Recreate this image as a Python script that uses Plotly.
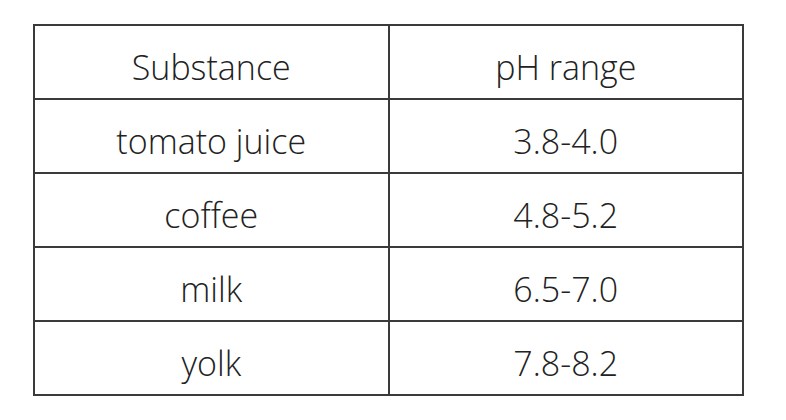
import plotly.graph_objects as go

# Table contents
headers = ["Substance", "pH range"]
substances = ["tomato juice", "coffee", "milk", "yolk"]
ph_ranges = ["3.8-4.0", "4.8-5.2", "6.5-7.0", "7.8-8.2"]

W, H = 786, 420
row_h = 74
line_col = "#3a3a3a"
off = 8          # page body margin in the screenshot
text_drop = 21   # plotly puts text at the top of a cell, push it to the middle
txt_font = dict(family="Open Sans", size=34, color="#222222", weight=300)

x_dom = [(34 - off) / W, (743 - off) / W]

# grid: borders only, empty cells
blank_head = ["" for _ in headers]
blank_cols = [["" for _ in substances], ["" for _ in ph_ranges]]
grid = go.Table(
    domain=dict(x=x_dom, y=[0, 1 - (25 - off) / H]),
    columnwidth=[1, 1],
    header=dict(values=blank_head, height=row_h, fill_color="white",
                line=dict(color=line_col, width=2)),
    cells=dict(values=blank_cols, height=row_h, fill_color="white",
               line=dict(color=line_col, width=2)),
)

# text layer, shifted down so it sits in the middle of each cell
labels = go.Table(
    domain=dict(x=x_dom, y=[0, 1 - (25 - off + text_drop) / H]),
    columnwidth=[1, 1],
    header=dict(values=headers, align="center", height=row_h, font=txt_font,
                fill_color="rgba(0,0,0,0)", line=dict(color="rgba(0,0,0,0)", width=0)),
    cells=dict(values=[substances, ph_ranges], align="center", height=row_h, font=txt_font,
               fill_color="rgba(0,0,0,0)", line=dict(color="rgba(0,0,0,0)", width=0)),
)

fig = go.Figure(data=[grid, labels])

fig.update_layout(
    width=W,
    height=H,
    margin=dict(l=0, r=0, t=0, b=0),
    paper_bgcolor="white",
)

fig.write_html("out.html")
